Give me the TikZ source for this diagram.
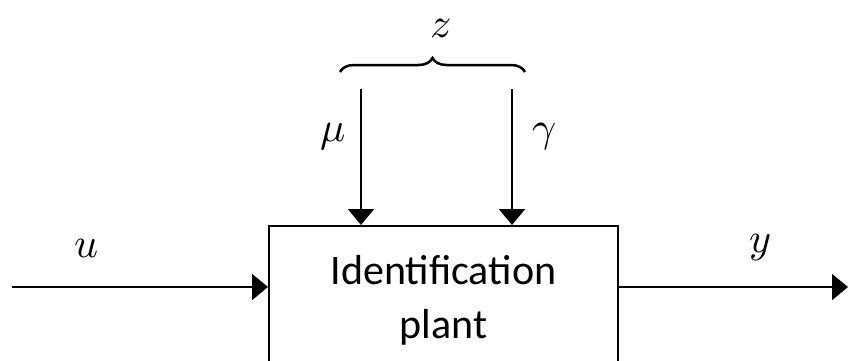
\documentclass[tikz,border=0pt]{standalone}
\usepackage{fontspec}
\usepackage{unicode-math}
\newfontfamily\boxfont{Carlito}
\usetikzlibrary{arrows.meta,decorations.pathreplacing}

\begin{document}
\begin{tikzpicture}[x=1pt,y=-1pt]
            \tikzstyle{sig}=[line width=2pt,-{Triangle[length=16pt,width=26pt]}]
            \tikzstyle{lbl}=[font=\fontsize{42}{46}\selectfont,inner sep=0pt]
            \useasboundingbox (0,0) rectangle (848,360);
            \node[draw,line width=2pt,minimum width=349pt,minimum height=148pt,align=center,font=\boxfont\fontsize{42}{54}\selectfont] (plant) at (443.5,300) {Identification\\plant};
            \coordinate (uin) at (12,287);
            \coordinate (yout) at (848,287);
            \coordinate (mutop) at (361,89);
            \coordinate (gatop) at (512,89);
            \coordinate (brl) at (340,72);
            \coordinate (brr) at (525,72);
            \draw[sig] (uin) -- (uin -| plant.west);
            \draw[sig] (plant.east |- yout) -- (yout);
            \draw[sig] (mutop) -- (mutop |- plant.north);
            \draw[sig] (gatop) -- (gatop |- plant.north);
            \draw[decorate,decoration={brace,amplitude=14pt},line width=2.5pt] (brl) -- (brr);
            \node[lbl] (u) at (87,248) {$u$};
            \node[lbl] (y) at (760,248) {$y$};
            \node[lbl] (mu) at (333,137) {$\mu$};
            \node[lbl] (gamma) at (544,137) {$\gamma$};
            \node[lbl] (z) at (441,28) {$z$};
        \end{tikzpicture}
\end{document}
